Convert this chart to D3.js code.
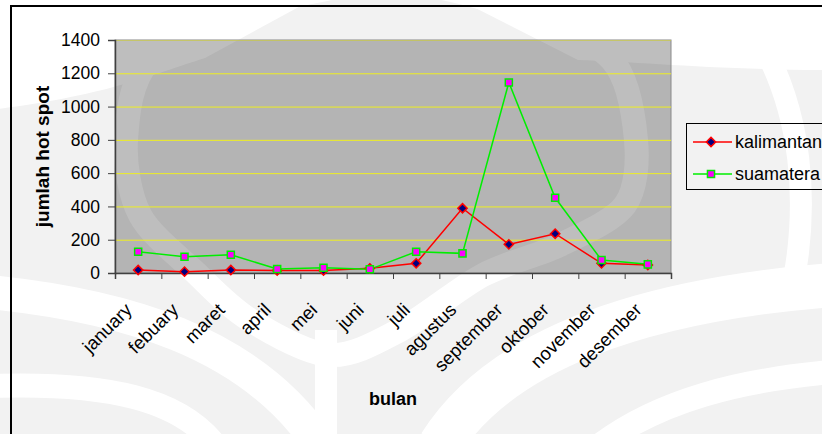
<!DOCTYPE html>
<html>
<head>
<meta charset="utf-8">
<script src="https://cdn.jsdelivr.net/npm/d3@7"></script>
<style>
  body { margin: 0; background: #ffffff; }
  svg text { font-family: "Liberation Sans", Arial, sans-serif; fill: #000; }
</style>
</head>
<body>
<svg id="chart" width="822" height="434"></svg>
<script>
// Monthly hot spot counts per island
const months = ["january", "febuary", "maret", "april", "mei", "juni", "juli",
                "agustus", "september", "oktober", "november", "desember"];
const kalimantan = [18, 8, 18, 15, 15, 28, 58, 389, 172, 236, 58, 48];
const suamatera  = [128, 98, 110, 24, 32, 22, 128, 118, 1145, 452, 78, 52];
const seriesNames = ["kalimantan", "suamatera"];
const yTicks = [0, 200, 400, 600, 800, 1000, 1200, 1400];

const svg = d3.select("#chart");
const W = 822, H = 434;
const plot = { left: 115, right: 671, top: 40, bottom: 273 };

// ---- faint emblem behind the chart ----
const bg = svg.append("g").attr("class", "backdrop");
bg.append("rect").attr("width", W).attr("height", H).attr("fill", "#f2f2f2");
// pale upper corners around the emblem's peak
bg.append("path").attr("fill", "#ffffff")
  .attr("d", "M-10,-10 L330,-10 L205,58 C150,75 110,95 -10,110 Z");
bg.append("path").attr("fill", "#ffffff")
  .attr("d", "M440,-10 L832,-10 L832,70 C720,70 640,62 578,60 Z");
// outline band of the central oval
const oval = [[395, -18], [520, 10], [612, 60], [636, 140], [625, 205], [560, 245],
              [483, 275], [400, 330], [330, 355], [250, 320], [195, 272], [140, 215],
              [126, 140], [150, 60], [260, 5]];
bg.append("path").attr("fill", "none").attr("stroke", "#ffffff").attr("stroke-width", 24)
  .attr("d", d3.line().curve(d3.curveCardinalClosed.tension(0.1))(oval));
// outer band on the right wing
bg.append("path").attr("fill", "none").attr("stroke", "#ffffff").attr("stroke-width", 22)
  .attr("d", "M760,40 C800,110 812,200 790,300");
// lower fan of bands
const bands = [
  { d: "M-10,292 C120,305 250,340 320,445", w: 34 },
  { d: "M-10,386 C110,382 180,400 215,445", w: 24 },
  { d: "M326,330 L326,445", w: 22 },
  { d: "M440,445 C500,350 640,300 832,285", w: 44 },
  { d: "M600,445 C660,400 740,380 832,372", w: 24 }
];
bg.selectAll("path.band").data(bands).join("path").attr("class", "band")
  .attr("fill", "none").attr("stroke", "#ffffff")
  .attr("stroke-width", d => d.w).attr("d", d => d.d);

// chart frame
svg.append("rect").attr("x", 11).attr("y", 6).attr("width", 830).attr("height", 440)
  .attr("fill", "none").attr("stroke", "#000").attr("stroke-width", 2);

// ---- scales ----
const x = d3.scaleBand().domain(months).range([plot.left, plot.right]).padding(0);
const xc = m => x(m) + x.bandwidth() / 2;
const y = d3.scaleLinear().domain([0, 1400]).range([plot.bottom, plot.top]);

// plot area: translucent shading over the emblem
svg.append("rect")
  .attr("x", plot.left).attr("y", plot.top)
  .attr("width", plot.right - plot.left).attr("height", plot.bottom - plot.top)
  .attr("fill", "#000").attr("fill-opacity", 0.256)
  .attr("stroke", "#8a8a8a").attr("stroke-width", 1);

// gridlines
svg.append("g").selectAll("line").data(yTicks.filter(d => d > 0)).join("line")
  .attr("x1", plot.left).attr("x2", plot.right)
  .attr("y1", d => y(d) + 0.5).attr("y2", d => y(d) + 0.5)
  .attr("stroke", "#eeee22").attr("stroke-width", 1)
  .attr("stroke-opacity", d => d === 1400 ? 0.45 : 1);

// y axis
const yAxis = svg.append("g").attr("transform", `translate(${plot.left},0)`)
  .call(d3.axisLeft(y).tickValues(yTicks).tickSize(7).tickPadding(8).tickFormat(d3.format("d")));
yAxis.select(".domain").attr("stroke", "#404040").attr("stroke-width", 1.5);
yAxis.selectAll(".tick line").attr("stroke", "#404040");
yAxis.selectAll("text").attr("font-size", 17.5).style("font-family", '"Liberation Sans", Arial, sans-serif');

// x axis: tick marks between categories
const xEdge = d3.scaleLinear().domain([0, months.length]).range([plot.left, plot.right]);
const xAxis = svg.append("g").attr("transform", `translate(0,${plot.bottom})`)
  .call(d3.axisBottom(xEdge).tickValues(d3.range(months.length + 1)).tickSize(6).tickFormat(""));
xAxis.select(".domain").attr("stroke", "#404040").attr("stroke-width", 1.5);
xAxis.selectAll(".tick line").attr("stroke", "#404040");

// x category labels, rotated
svg.append("g").selectAll("text").data(months).join("text")
  .attr("transform", d => `translate(${xc(d) - 5},${plot.bottom + 38}) rotate(-45)`)
  .attr("text-anchor", "end")
  .attr("font-size", 18.5)
  .text(d => d);

// axis titles
svg.append("text")
  .attr("x", (plot.left + plot.right) / 2).attr("y", 405)
  .attr("text-anchor", "middle").attr("font-size", 18).attr("font-weight", "bold")
  .text("bulan");
svg.append("text")
  .attr("transform", `translate(49,${(plot.top + plot.bottom) / 2}) rotate(-90)`)
  .attr("text-anchor", "middle").attr("font-size", 19).attr("font-weight", "bold")
  .text("jumlah hot spot");

// ---- series ----
const line = d3.line().x((d, i) => xc(months[i])).y(d => y(d));
const diamond = d3.symbol().type(d3.symbolDiamond2 || d3.symbolDiamond).size(55);
const square = d3.symbol().type(d3.symbolSquare).size(50);

const series = [
  { name: seriesNames[0], values: kalimantan, stroke: "#ff0000", fill: "#000080", symbol: diamond },
  { name: seriesNames[1], values: suamatera,  stroke: "#00ee00", fill: "#ff00ff", symbol: square }
];

series.forEach(s => {
  svg.append("path").datum(s.values)
    .attr("d", line).attr("fill", "none")
    .attr("stroke", s.stroke).attr("stroke-width", 1.5);
});
series.forEach(s => {
  svg.append("g").selectAll("path").data(s.values).join("path")
    .attr("transform", (d, i) => `translate(${xc(months[i])},${y(d)})`)
    .attr("d", s.symbol)
    .attr("fill", s.fill).attr("stroke", s.stroke).attr("stroke-width", 1.5);
});

// ---- legend ----
const lg = svg.append("g");
lg.append("rect").attr("x", 686.5).attr("y", 123.5).attr("width", 160).attr("height", 66)
  .attr("fill", "none").attr("stroke", "#000").attr("stroke-width", 1);
series.forEach((s, i) => {
  const cy = 142 + i * 32;
  lg.append("line").attr("x1", 693).attr("x2", 732).attr("y1", cy).attr("y2", cy)
    .attr("stroke", s.stroke).attr("stroke-width", 1.5);
  lg.append("path").attr("transform", `translate(711,${cy})`).attr("d", s.symbol)
    .attr("fill", s.fill).attr("stroke", s.stroke).attr("stroke-width", 1.5);
  lg.append("text").attr("x", 735).attr("y", cy).attr("dy", "0.35em")
    .attr("font-size", 18).text(s.name);
});
</script>
</body>
</html>
